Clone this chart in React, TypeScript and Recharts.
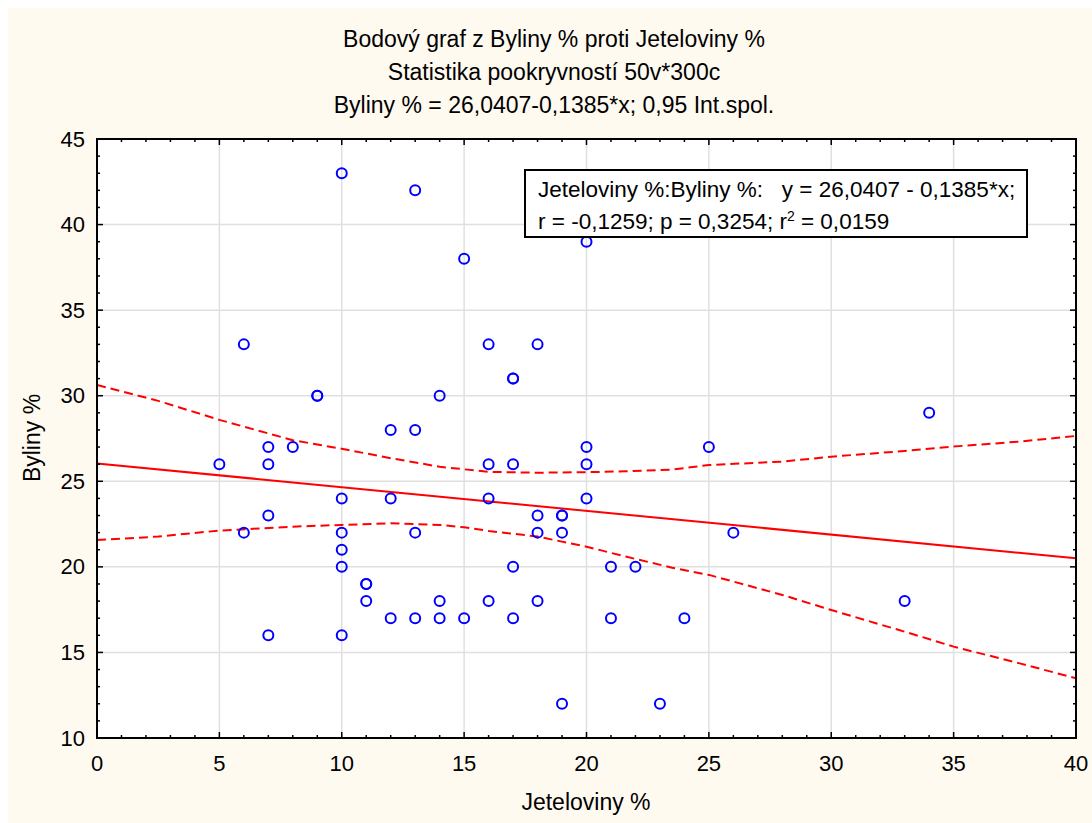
import React from "react";
import {
  ComposedChart,
  Scatter,
  Line,
  XAxis,
  YAxis,
  CartesianGrid,
} from "recharts";

// raw points (Jeteloviny %, Byliny %)
const jeteloviny = [
  5, 6, 6, 7, 7, 7, 7, 8, 9, 9,
  10, 10, 10, 10, 10, 10, 11, 11, 11, 12,
  12, 12, 13, 13, 13, 13, 14, 14, 14, 15,
  15, 16, 16, 16, 16, 17, 17, 17, 17, 17,
  18, 18, 18, 18, 19, 19, 19, 19, 20, 20,
  20, 20, 21, 21, 22, 23, 24, 25, 26, 33,
  34,
];
const byliny = [
  26, 33, 22, 27, 26, 23, 16, 27, 30, 30,
  43, 24, 22, 21, 20, 16, 19, 19, 18, 28,
  24, 17, 42, 28, 22, 17, 30, 18, 17, 38,
  17, 33, 26, 24, 18, 31, 31, 26, 20, 17,
  33, 23, 22, 18, 23, 23, 22, 12, 39, 27,
  26, 24, 20, 17, 20, 12, 17, 27, 22, 18,
  29,
];

// fitted line: Byliny % = 26,0407 - 0,1385*x, ends of the plotted range
const fitX = [0, 40];
const fitY = [26.0407, 20.5007];

// 0,95 confidence band
const bandX = [0, 2.5, 5, 8, 10, 12, 14, 15, 16, 18, 20, 21.6, 23.5, 25, 28, 30, 33, 35, 37.7, 40];
const bandUpper = [30.63, 29.7, 28.59, 27.4, 26.9, 26.35, 25.85, 25.7, 25.55, 25.5, 25.53, 25.58, 25.68, 25.95, 26.15, 26.44, 26.77, 27.03, 27.32, 27.65];
const bandLower = [21.57, 21.77, 22.12, 22.35, 22.45, 22.55, 22.45, 22.31, 22.1, 21.77, 21.18, 20.6, 19.95, 19.53, 18.36, 17.48, 16.21, 15.34, 14.36, 13.49];

const xMajor = [0, 5, 10, 15, 20, 25, 30, 35, 40];
const yMajor = [10, 15, 20, 25, 30, 35, 40, 45];
const xAll = Array.from({ length: 41 }, (_, i) => i);
const yAll = Array.from({ length: 36 }, (_, i) => i + 10);

const points = jeteloviny.map((x, i) => ({ x, y: byliny[i] }));
const fitData = fitX.map((x, i) => ({ x, y: fitY[i] }));
const upperData = bandX.map((x, i) => ({ x, y: bandUpper[i] }));
const lowerData = bandX.map((x, i) => ({ x, y: bandLower[i] }));

const FONT = "Arial, 'Liberation Sans', sans-serif";

// chart box and plot rectangle (plot = margins + axis sizes)
const W = 1084;
const H = 815;
const MARGIN = { top: 131, right: 16, bottom: 45, left: 29 };
const Y_AXIS_W = 60;
const X_AXIS_H = 40;
const PLOT_L = MARGIN.left + Y_AXIS_W;
const PLOT_T = MARGIN.top;
const PLOT_W = W - PLOT_L - MARGIN.right;
const PLOT_H = H - PLOT_T - MARGIN.bottom - X_AXIS_H;

const isMajor = (v: number) => v % 5 === 0;
const tickLen = (v: number) => (isMajor(v) ? 6 : 3);

// bottom axis tick, mirrored onto the top edge of the frame
const BottomTick = ({ x, y, payload }: any) => {
  const v = payload.value;
  const top = y - PLOT_H;
  return (
    <g>
      <line x1={x} x2={x} y1={y} y2={y - tickLen(v)} stroke="#000" strokeWidth={1.5} />
      <line x1={x} x2={x} y1={top} y2={top + tickLen(v)} stroke="#000" strokeWidth={1.5} />
      {isMajor(v) && (
        <text x={x} y={y + 25} textAnchor="middle" dominantBaseline="central" fontSize={22} fontFamily={FONT} fill="#000">
          {v}
        </text>
      )}
    </g>
  );
};

// left axis tick, mirrored onto the right edge of the frame
const LeftTick = ({ x, y, payload }: any) => {
  const v = payload.value;
  const right = x + PLOT_W;
  return (
    <g>
      <line x1={x} x2={x + tickLen(v)} y1={y} y2={y} stroke="#000" strokeWidth={1.5} />
      <line x1={right} x2={right - tickLen(v)} y1={y} y2={y} stroke="#000" strokeWidth={1.5} />
      {isMajor(v) && (
        <text x={x - 12} y={y} textAnchor="end" dominantBaseline="central" fontSize={22} fontFamily={FONT} fill="#000">
          {v}
        </text>
      )}
    </g>
  );
};

const Ring = ({ cx, cy }: any) => (
  <circle cx={cx} cy={cy} r={5} fill="none" stroke="#0000ff" strokeWidth={2} />
);

export default function App() {
  return (
    <div
      style={{
        position: "relative",
        margin: "8px 0 0 8px",
        width: W,
        height: H,
        background: "#fffaf0",
        fontFamily: FONT,
        color: "#000",
      }}
    >
      <style>{"html{overflow:hidden} body{margin:0}"}</style>
      <div
        style={{
          position: "absolute",
          left: 4,
          width: W,
          top: 15,
          textAlign: "center",
          fontSize: 23,
          lineHeight: "33px",
        }}
      >
        <div>Bodový graf z Byliny % proti Jeteloviny %</div>
        <div>Statistika pookryvností 50v*300c</div>
        <div>Byliny % = 26,0407-0,1385*x; 0,95 Int.spol.</div>
      </div>

      <ComposedChart width={W} height={H} margin={MARGIN} style={{ overflow: "visible" }}>
        <CartesianGrid
          fill="#ffffff"
          stroke="#e0e0e0"
          strokeWidth={1.5}
          verticalValues={xMajor}
          horizontalValues={yMajor}
        />
        <XAxis
          dataKey="x"
          type="number"
          domain={[0, 40]}
          ticks={xAll}
          interval={0}
          height={X_AXIS_H}
          tickSize={0}
          tickMargin={0}
          tickLine={false}
          axisLine={false}
          tick={<BottomTick />}
          allowDataOverflow
        />
        <YAxis
          dataKey="y"
          type="number"
          domain={[10, 45]}
          ticks={yAll}
          interval={0}
          width={Y_AXIS_W}
          tickSize={0}
          tickMargin={0}
          tickLine={false}
          axisLine={false}
          tick={<LeftTick />}
          allowDataOverflow
        />
        <Line
          data={upperData}
          dataKey="y"
          type="linear"
          stroke="#ff0000"
          strokeWidth={2}
          strokeDasharray="9 5"
          dot={false}
          activeDot={false}
          isAnimationActive={false}
        />
        <Line
          data={lowerData}
          dataKey="y"
          type="linear"
          stroke="#ff0000"
          strokeWidth={2}
          strokeDasharray="9 5"
          dot={false}
          activeDot={false}
          isAnimationActive={false}
        />
        <Line
          data={fitData}
          dataKey="y"
          type="linear"
          stroke="#ff0000"
          strokeWidth={2}
          dot={false}
          activeDot={false}
          isAnimationActive={false}
        />
        <Scatter data={points} shape={<Ring />} isAnimationActive={false} />
      </ComposedChart>

      {/* plot frame */}
      <div
        style={{
          position: "absolute",
          left: PLOT_L - 1,
          top: PLOT_T - 1,
          width: PLOT_W + 2,
          height: PLOT_H + 2,
          border: "2px solid #000",
          boxSizing: "border-box",
          pointerEvents: "none",
        }}
      />

      <div
        style={{
          position: "absolute",
          left: 516,
          top: 161,
          width: 504,
          height: 69,
          border: "2px solid #000",
          background: "#fff",
          fontSize: 22.5,
          lineHeight: "32px",
          paddingLeft: 12,
          boxSizing: "border-box",
          whiteSpace: "nowrap",
        }}
      >
        <div style={{ marginTop: 3 }}>Jeteloviny %:Byliny %:&nbsp;&nbsp; y = 26,0407 - 0,1385*x;</div>
        <div>
          r = -0,1259; p = 0,3254; r<sup style={{ fontSize: 14, lineHeight: 0 }}>2</sup> = 0,0159
        </div>
      </div>

      <div
        style={{
          position: "absolute",
          left: 0,
          width: 1156,
          top: 781,
          textAlign: "center",
          fontSize: 23,
        }}
      >
        Jeteloviny %
      </div>
      <div
        style={{
          position: "absolute",
          left: 24,
          top: 430,
          fontSize: 23,
          whiteSpace: "nowrap",
          transform: "translate(-50%, -50%) rotate(-90deg)",
        }}
      >
        Byliny %
      </div>
    </div>
  );
}
